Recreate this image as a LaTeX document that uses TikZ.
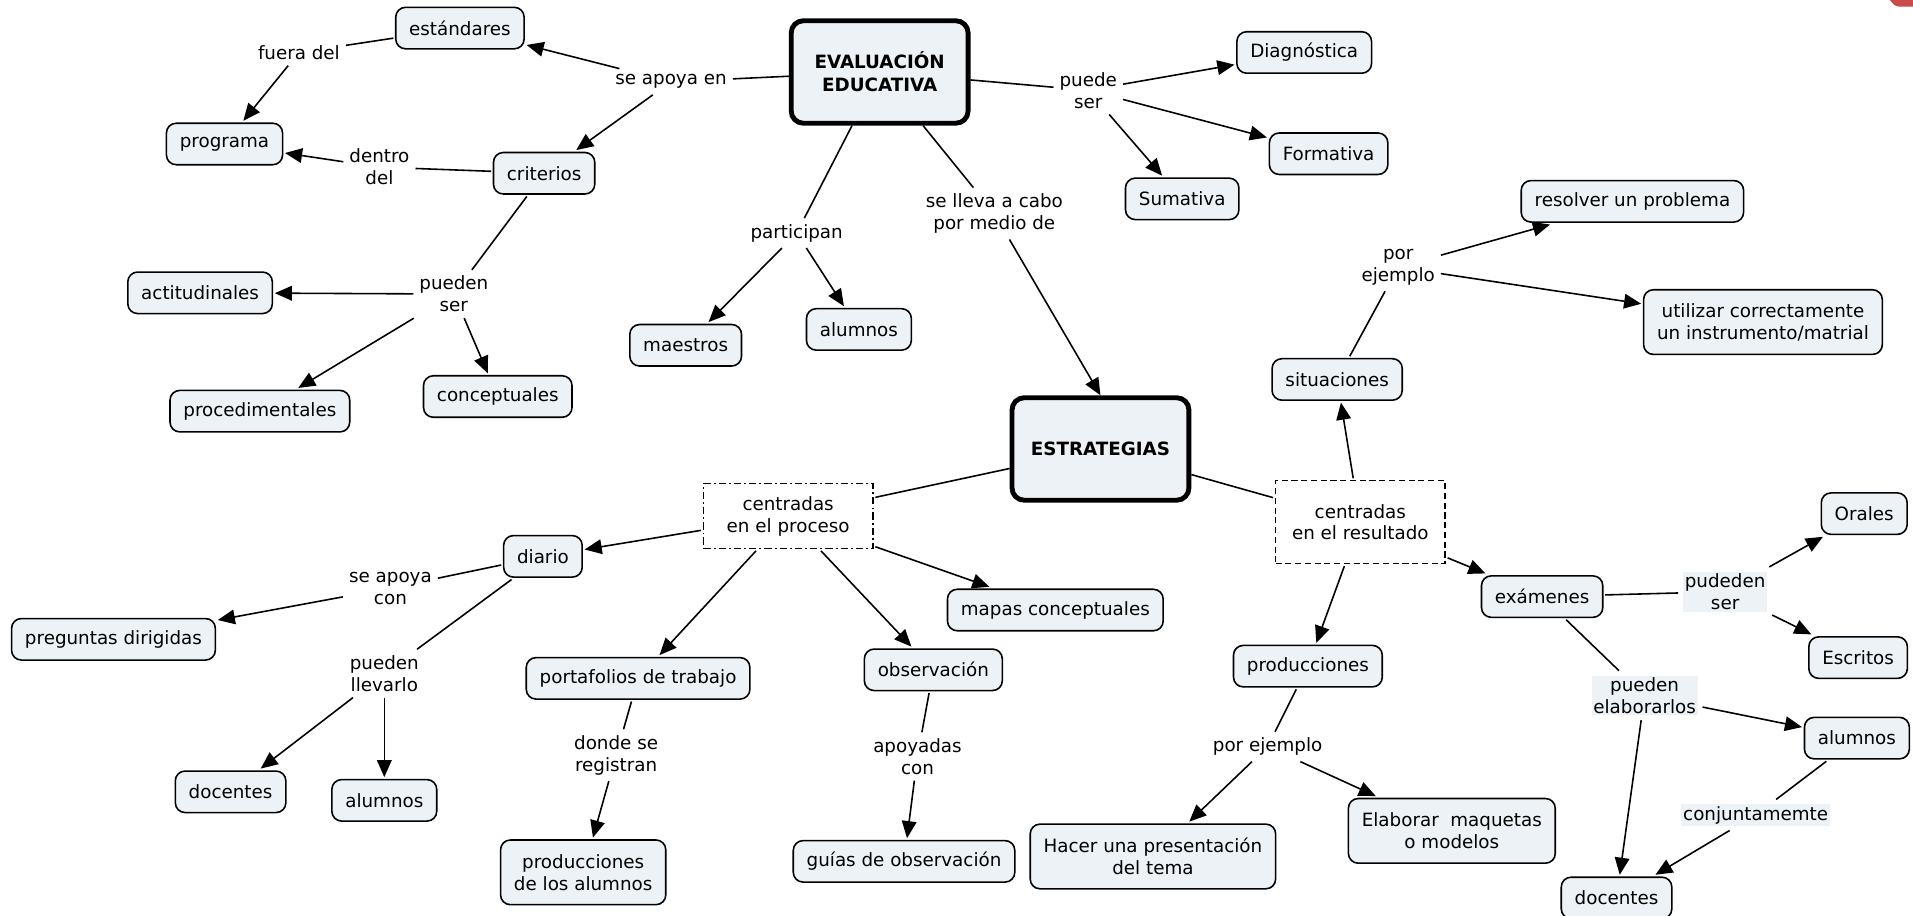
\documentclass[tikz,border=0pt]{standalone}
\usepackage{fontspec}
\setmainfont{DejaVu Sans}
\usetikzlibrary{arrows.meta}
\definecolor{cfill}{RGB}{236,242,245}
\definecolor{redc}{RGB}{200,76,76}
\begin{document}
\begin{tikzpicture}[x=1pt,y=-1pt, font=\fontsize{15}{18}\selectfont,
 concept/.style={draw, rounded corners=8pt, fill=cfill, line width=1.3pt, inner xsep=11pt, inner ysep=4pt, minimum height=34pt, align=center, outer sep=2pt},
 twoline/.style={concept, minimum height=53pt},
 bigconcept/.style={concept, line width=4pt, font=\fontsize{15}{19}\selectfont\bfseries, minimum width=145pt, minimum height=84pt, rounded corners=10pt},
 link/.style={inner sep=1pt, outer sep=4pt, align=center},
 linkbg/.style={link, fill=cfill, inner sep=1.5pt},
 conn/.style={line width=1.3pt},
 arr/.style={conn, -{Triangle[length=14pt,width=12pt]}},
]
\fill[white] (0,0) rectangle (1568,750);
\useasboundingbox (0,0) rectangle (1568,750);
\fill[redc] (1549,0) -- (1568,0) -- (1568,5.5) -- (1557,5.5) to[out=180,in=-50] cycle;

% concepts
\node[bigconcept] (eval) at (721,59) {EVALUACIÓN\\EDUCATIVA};
\node[concept] (est) at (377,23) {estándares};
\node[concept] (prog) at (184,118) {programa};
\node[concept] (crit) at (446,142) {criterios};
\node[concept] (acti) at (164,240) {actitudinales};
\node[concept] (procm) at (213,337) {procedimentales};
\node[concept] (concp) at (408,325) {conceptuales};
\node[concept] (maes) at (562,283) {maestros};
\node[concept] (alumA) at (704,270) {alumnos};
\node[concept] (diag) at (1069,43) {Diagnóstica};
\node[concept] (form) at (1089,126) {Formativa};
\node[concept] (suma) at (969,163) {Sumativa};
\node[concept] (reso) at (1338,165) {resolver un problema};
\node[twoline] (util) at (1445,264) {utilizar correctamente\\un instrumento/matrial};
\node[concept] (situ) at (1096,311) {situaciones};
\node[bigconcept] (estr) at (902,368) {ESTRATEGIAS};
\node[draw, line width=1.2pt, dash pattern=on 6pt off 2.5pt on 1.5pt off 2.5pt, minimum width=139pt, minimum height=53pt, align=center, inner sep=2pt, outer sep=2pt] (cproc) at (646,423) {centradas\\en el proceso};
\node[draw, line width=1.2pt, dash pattern=on 5pt off 3pt, minimum width=139pt, minimum height=68pt, align=center, inner sep=2pt, outer sep=2pt] (cres) at (1115,428) {centradas\\en el resultado};
\node[concept] (diar) at (445,456) {diario};
\node[concept] (preg) at (93,524) {preguntas dirigidas};
\node[concept] (mapa) at (865,500) {mapas conceptuales};
\node[concept] (port) at (523,556) {portafolios de trabajo};
\node[concept] (obse) at (765,549) {observación};
\node[concept] (docA) at (189,649) {docentes};
\node[concept] (alumB) at (315,656) {alumnos};
\node[twoline] (prodal) at (478,715) {producciones\\de los alumnos};
\node[concept] (guia) at (741,706) {guías de observación};
\node[concept] (prod) at (1072,546) {producciones};
\node[twoline] (hace) at (945,702) {Hacer una presentación\\del tema};
\node[twoline] (elab) at (1190,681) {Elaborar~ maquetas\\o modelos};
\node[concept] (exam) at (1264,489) {exámenes};
\node[concept] (oral) at (1528,421) {Orales};
\node[concept] (escr) at (1523,539) {Escritos};
\node[concept] (alumC) at (1522,605) {alumnos};
\node[concept] (docB) at (1325,736) {docentes};

% linking phrases
\node[link] (l1) at (550,67) {se apoya en};
\node[link] (l2) at (245,43) {fuera del};
\node[link] (l3) at (311,137) {dentro\\del};
\node[link] (l4) at (372,241) {pueden\\ser};
\node[link] (l5) at (653,191) {participan};
\node[link] (l6) at (815,175) {se lleva a cabo\\por medio de};
\node[link] (l7) at (892,74) {puede\\ser};
\node[link] (l8) at (1146,219) {por\\ejemplo};
\node[link] (l9) at (320,482) {se apoya\\con};
\node[link] (l10) at (315,552) {pueden\\llevarlo};
\node[link] (l11) at (505,619) {donde se\\registran};
\node[link] (l12) at (752,620) {apoyadas\\con};
\node[link] (l13) at (1039,612) {por ejemplo};
\node[linkbg] (l14) at (1414,485) {pudeden\\ser};
\node[linkbg] (l15) at (1348,570) {pueden\\elaborarlos};
\node[linkbg] (l16) at (1439,668) {conjuntamemte};

% connectors
\draw[conn] (eval) -- (l1);
\draw[arr] (l1) -- (est);
\draw[arr] (l1) -- (crit);
\draw[conn] (est) -- (l2);
\draw[arr] (l2) -- (prog);
\draw[conn] (crit) -- (l3);
\draw[arr] (l3) -- (prog);
\draw[conn] (crit) -- (l4);
\draw[arr] (l4) -- (acti);
\draw[arr] (l4) -- (procm);
\draw[arr] (l4) -- (concp);
\draw[conn] (eval) -- (l5);
\draw[arr] (l5) -- (maes);
\draw[arr] (l5) -- (alumA);
\draw[conn] (eval) -- (l6);
\draw[arr] (l6) -- (estr.north);
\draw[conn] (eval) -- (l7);
\draw[arr] (l7) -- (diag);
\draw[arr] (l7) -- (form);
\draw[arr] (l7) -- (suma);
\draw[conn] (estr) -- (cproc);
\draw[arr] (cproc) -- (diar);
\draw[arr] (cproc) -- (port);
\draw[arr] (cproc) -- (obse);
\draw[arr] (cproc) -- (mapa);
\draw[conn] (estr) -- (cres);
\draw[arr] (cres) -- (situ);
\draw[arr] (cres) -- (prod);
\draw[arr] (cres) -- (exam);
\draw[conn] (situ) -- (l8);
\draw[arr] (l8) -- (reso);
\draw[arr] (l8) -- (util);
\draw[conn] (diar) -- (l9);
\draw[arr] (l9) -- (preg);
\draw[conn] (diar) -- (l10);
\draw[arr] (l10) -- (docA);
\draw[arr] (l10) -- (alumB);
\draw[conn] (port) -- (l11);
\draw[arr] (l11) -- (prodal);
\draw[conn] (obse) -- (l12);
\draw[arr] (l12) -- (guia);
\draw[conn] (prod) -- (l13);
\draw[arr] (l13) -- (hace);
\draw[arr] (l13) -- (elab);
\draw[conn] (exam) -- (l14);
\draw[arr] (l14) -- (oral);
\draw[arr] (l14) -- (escr);
\draw[conn] (exam) -- (l15);
\draw[arr] (l15) -- (alumC);
\draw[arr] (l15) -- (docB);
\draw[conn] (alumC) -- (l16);
\draw[arr] (l16) -- (docB);
\end{tikzpicture}
\end{document}
